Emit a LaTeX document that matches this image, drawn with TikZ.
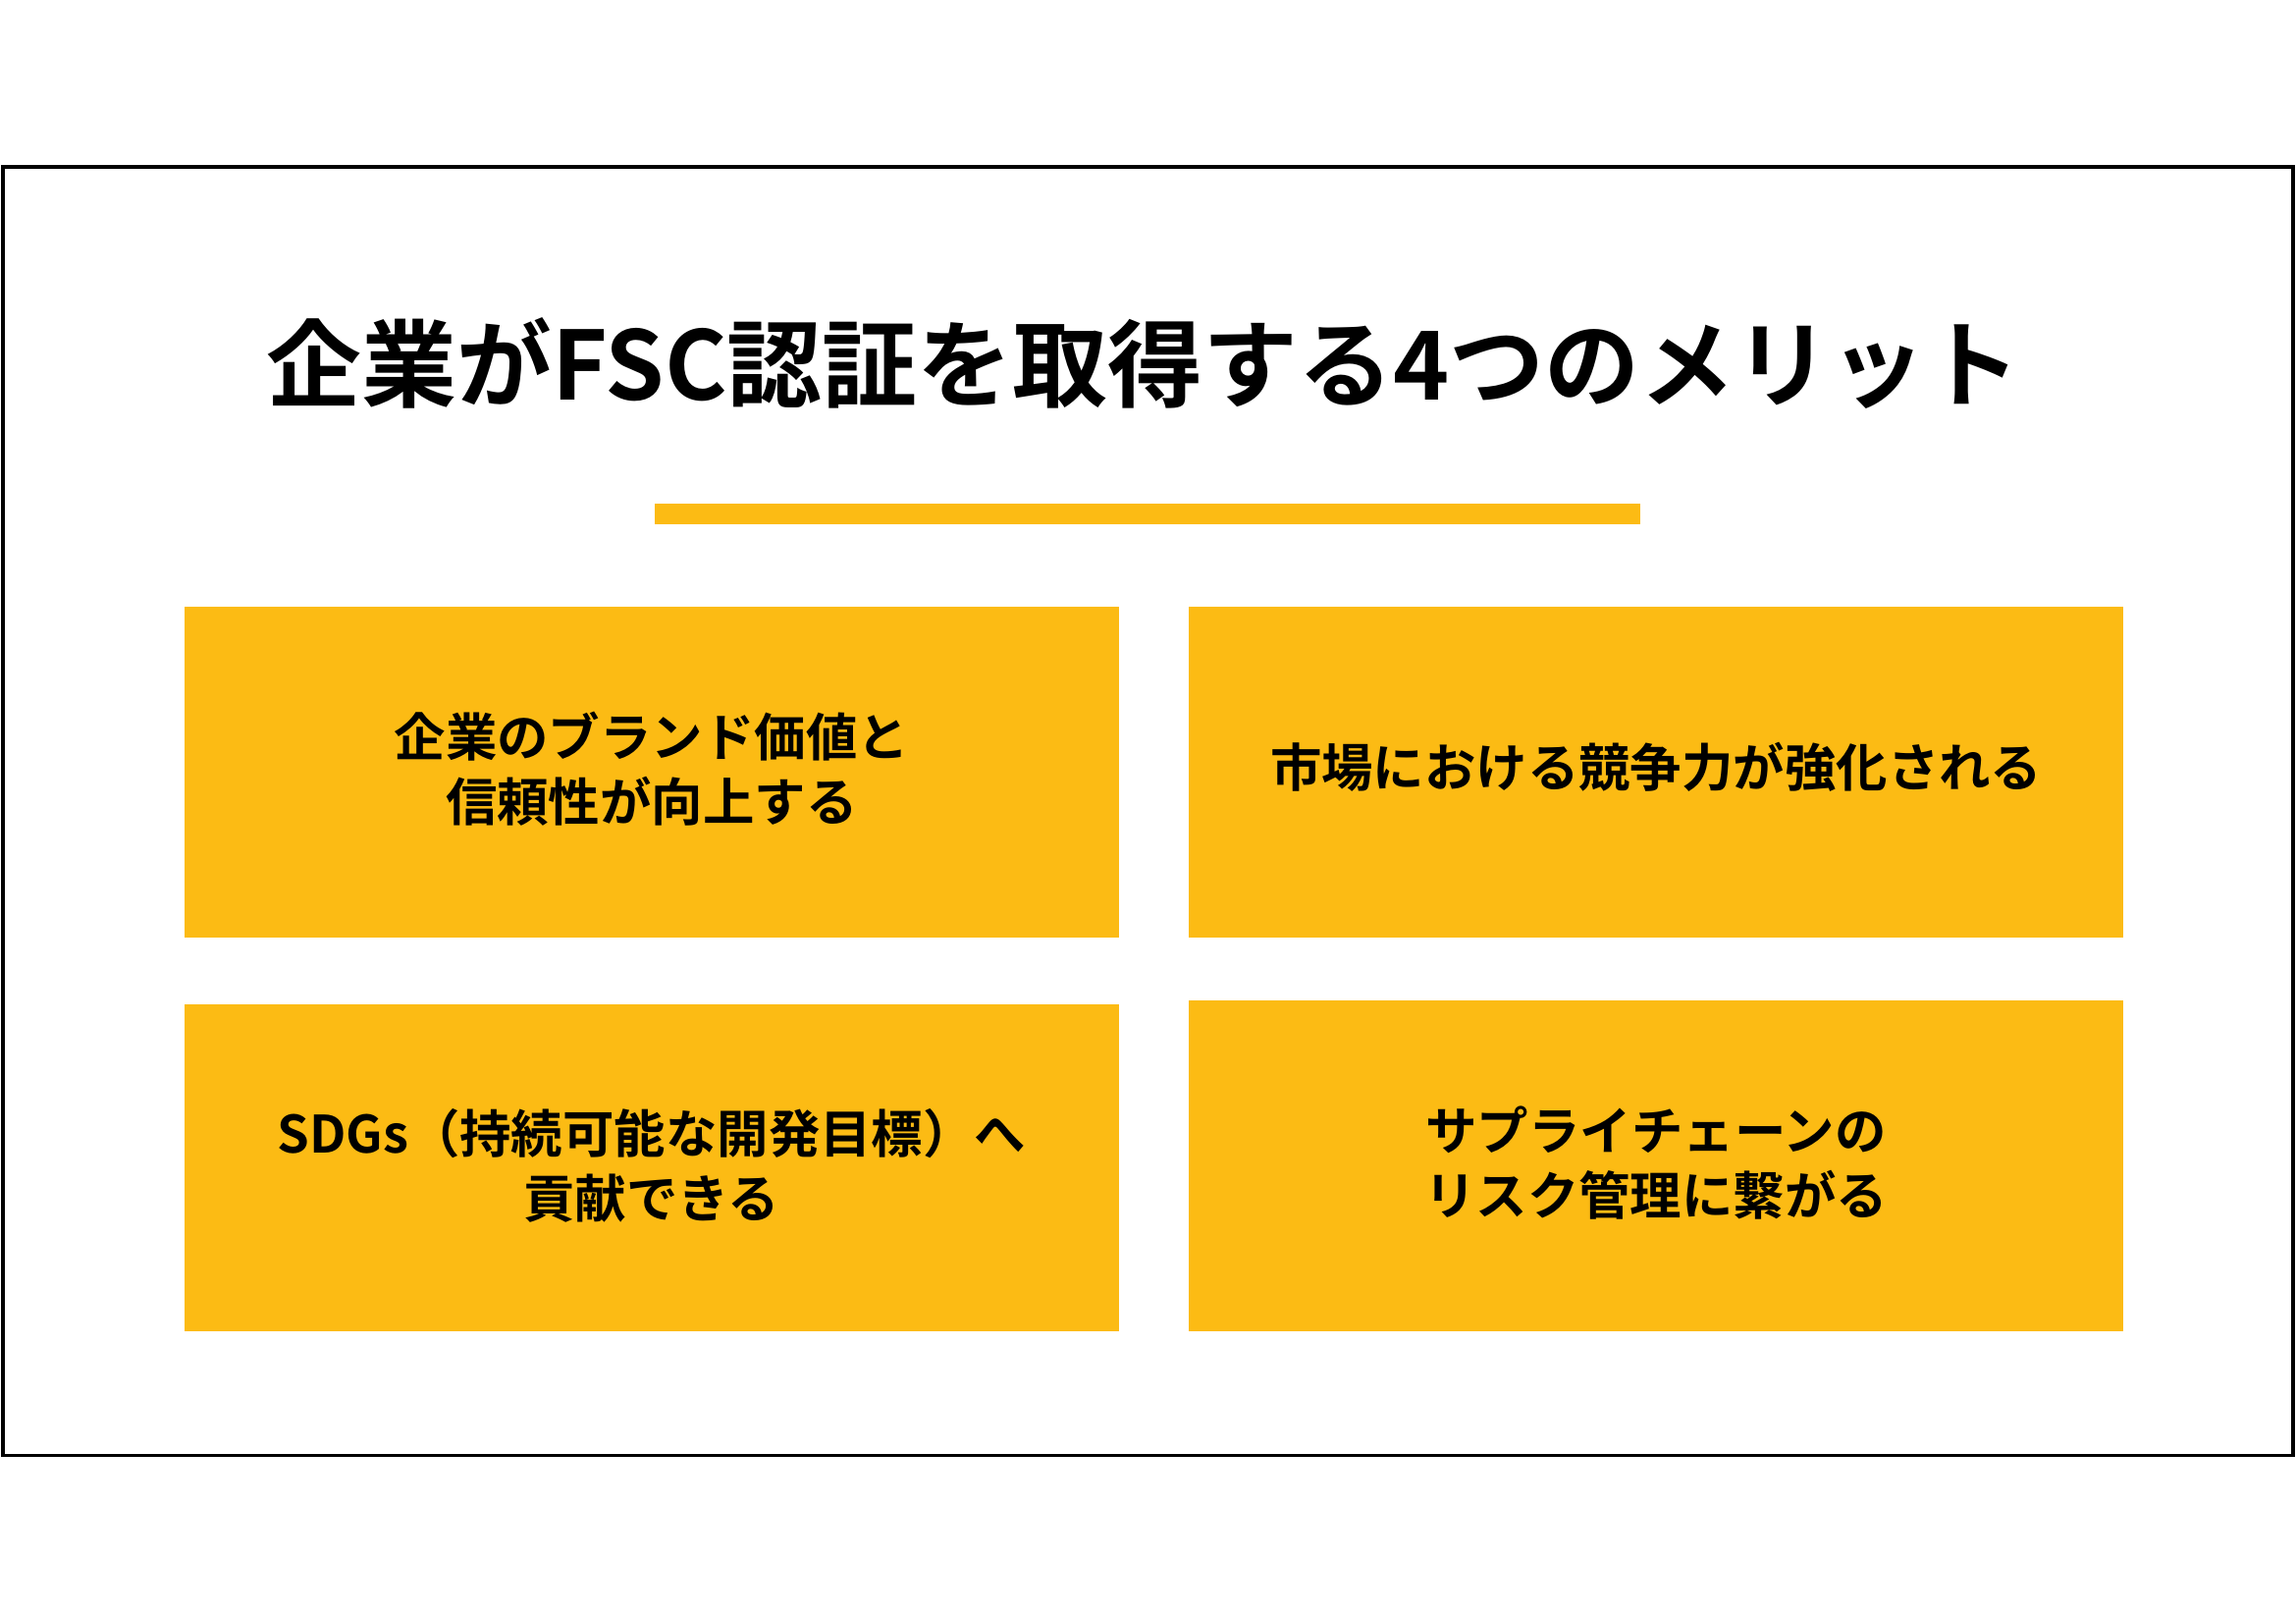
\documentclass[tikz,border=0pt]{standalone}
\usepackage{fontspec}
\setmainfont{Noto Sans CJK JP Bold}
\definecolor{gold}{HTML}{FCBB14}
\begin{document}
\begin{tikzpicture}[x=0.02cm,y=-0.02cm,
  card/.style={fill=gold,draw=none},
  cardtext/.style={align=center,font=\fontsize{20}{25}\selectfont,text=black}]
\useasboundingbox (0,0) rectangle (1568,1102);
\fill[white] (0,0) rectangle (1568,1102);
\draw[line width=1.2pt] (2,114) rectangle (1566,994);
\node[font=\fontsize{37}{40}\selectfont] (title) at (781,248) {企業がFSC認証を取得する4つのメリット};
\fill[gold] (447,344) rectangle (1120,358);
\fill[card] (126,414) rectangle (764,640);
\fill[card] (812,414) rectangle (1450,640);
\fill[card] (126,686) rectangle (764,909);
\fill[card] (812,683) rectangle (1450,909);
\node[cardtext] (t1) at (445,525) {企業のブランド価値と\\信頼性が向上する};
\node[cardtext] (t2) at (1131,524) {市場における競争力が強化される};
\node[cardtext] (t3) at (445,796) {SDGs（持続可能な開発目標）へ\\貢献できる};
\node[cardtext] (t4) at (1131,794) {サプライチェーンの\\リスク管理に繋がる};
\end{tikzpicture}
\end{document}
